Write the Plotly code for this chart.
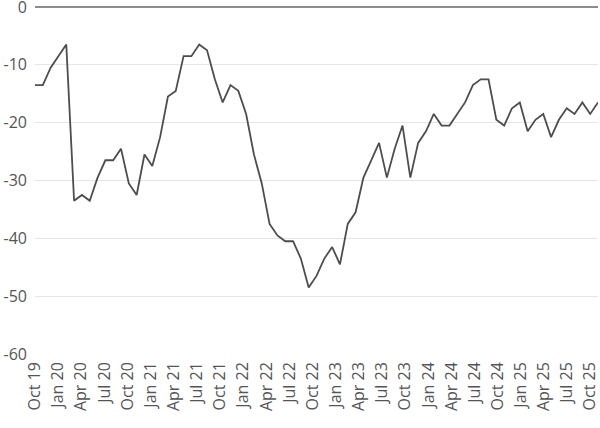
import plotly.graph_objects as go

# Monthly values, Oct 2019 – Oct 2025
months = [
    "Oct 19", "Nov 19", "Dec 19",
    "Jan 20", "Feb 20", "Mar 20", "Apr 20", "May 20", "Jun 20", "Jul 20", "Aug 20", "Sep 20", "Oct 20", "Nov 20", "Dec 20",
    "Jan 21", "Feb 21", "Mar 21", "Apr 21", "May 21", "Jun 21", "Jul 21", "Aug 21", "Sep 21", "Oct 21", "Nov 21", "Dec 21",
    "Jan 22", "Feb 22", "Mar 22", "Apr 22", "May 22", "Jun 22", "Jul 22", "Aug 22", "Sep 22", "Oct 22", "Nov 22", "Dec 22",
    "Jan 23", "Feb 23", "Mar 23", "Apr 23", "May 23", "Jun 23", "Jul 23", "Aug 23", "Sep 23", "Oct 23", "Nov 23", "Dec 23",
    "Jan 24", "Feb 24", "Mar 24", "Apr 24", "May 24", "Jun 24", "Jul 24", "Aug 24", "Sep 24", "Oct 24", "Nov 24", "Dec 24",
    "Jan 25", "Feb 25", "Mar 25", "Apr 25", "May 25", "Jun 25", "Jul 25", "Aug 25", "Sep 25", "Oct 25",
]

values = [
    -13.5, -13.5, -10.5,
    -8.5, -6.5, -33.5, -32.5, -33.5, -29.5, -26.5, -26.5, -24.5, -30.5, -32.5, -25.5,
    -27.5, -22.5, -15.5, -14.5, -8.5, -8.5, -6.5, -7.5, -12.5, -16.5, -13.5, -14.5,
    -18.5, -25.5, -30.5, -37.5, -39.5, -40.5, -40.5, -43.5, -48.5, -46.5, -43.5, -41.5,
    -44.5, -37.5, -35.5, -29.5, -26.5, -23.5, -29.5, -24.5, -20.5, -29.5, -23.5, -21.5,
    -18.5, -20.5, -20.5, -18.5, -16.5, -13.5, -12.5, -12.5, -19.5, -20.5, -17.5, -16.5,
    -21.5, -19.5, -18.5, -22.5, -19.5, -17.5, -18.5, -16.5, -18.5, -16.5,
]

# Quarterly labels on a month axis that runs one month past the last value
tick_labels = months[::3]
tick_positions = list(range(0, len(months), 3))
label_axis_months = len(months)  # Oct 19 .. Nov 25 span

y_ticks = [0, -10, -20, -30, -40, -50, -60]

fig = go.Figure()
fig.add_trace(go.Scatter(
    x=list(range(len(values))),
    y=values,
    mode="lines",
    line=dict(color="#4d4d4d", width=1.8),
    hoverinfo="skip",
    showlegend=False,
    cliponaxis=False,
))

font_family = "'Open Sans', Lato, sans-serif"
label_font = dict(family=font_family, size=16, color="#555555")

fig.update_layout(
    width=600,
    height=428,
    margin=dict(l=35, r=2, t=7, b=74),
    paper_bgcolor="white",
    plot_bgcolor="white",
    font=dict(family=font_family, size=16, color="#555555"),
    xaxis=dict(
        range=[0, len(values) - 1],
        showticklabels=False,
        showgrid=False,
        zeroline=False,
        showline=False,
        ticks="",
        automargin=False,
    ),
    xaxis2=dict(
        overlaying="x",
        anchor="y",
        side="bottom",
        range=[0, label_axis_months],
        tickmode="array",
        tickvals=tick_positions,
        ticktext=tick_labels,
        tickangle=-90,
        showgrid=False,
        zeroline=False,
        showline=False,
        ticks="",
        automargin=False,
        ticklabeloverflow="allow",
        ticklabelstandoff=4,
        tickfont=label_font,
    ),
)

# invisible helper so the label axis is drawn
fig.add_trace(go.Scatter(
    x=[0, label_axis_months], y=[None, None], xaxis="x2", yaxis="y",
    mode="lines", showlegend=False, hoverinfo="skip",
))

fig.update_yaxes(
    range=[-60, 0],
    tickmode="array",
    tickvals=y_ticks,
    ticktext=[str(v) for v in y_ticks],
    showgrid=True,
    gridcolor="#e6e6e6",
    gridwidth=1,
    zeroline=True,
    zerolinecolor="#8c8c8c",
    zerolinewidth=1.5,
    showline=False,
    ticks="",
    automargin=False,
    ticklabeloverflow="allow",
    ticklabelstandoff=7,
    tickfont=label_font,
)

fig.write_html(
    "out.html",
    config={"displayModeBar": False},
    post_script="document.body.style.margin='0';document.body.style.overflow='hidden';",
)
